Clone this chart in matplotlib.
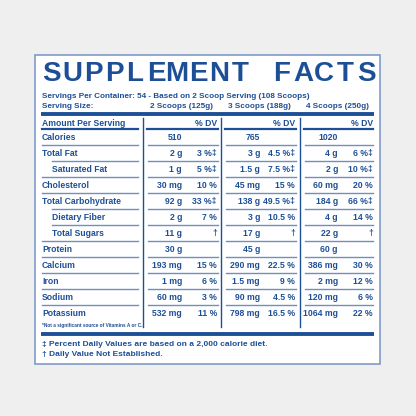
import matplotlib
matplotlib.use("Agg")
import matplotlib.pyplot as plt

title = "SUPPLEMENT FACTS"
servings_line = "Servings Per Container: 54 - Based on 2 Scoop Serving (108 Scoops)"
serving_sizes = ["2 Scoops (125g)", "3 Scoops (188g)", "4 Scoops (250g)"]
nutrients = ["Calories", "Total Fat", "Saturated Fat", "Cholesterol", "Total Carbohydrate",
             "Dietary Fiber", "Total Sugars", "Protein", "Calcium", "Iron", "Sodium", "Potassium"]
indented = [False, False, True, False, False, True, True, False, False, False, False, False]
amounts = [
    ["510", "2 g", "1 g", "30 mg", "92 g", "2 g", "11 g", "30 g", "193 mg", "1 mg", "60 mg", "532 mg"],
    ["765", "3 g", "1.5 g", "45 mg", "138 g", "3 g", "17 g", "45 g", "290 mg", "1.5 mg", "90 mg", "798 mg"],
    ["1020", "4 g", "2 g", "60 mg", "184 g", "4 g", "22 g", "60 g", "386 mg", "2 mg", "120 mg", "1064 mg"],
]
dvs = [
    ["", "3 %‡", "5 %‡", "10 %", "33 %‡", "7 %", "†", "", "15 %", "6 %", "3 %", "11 %"],
    ["", "4.5 %‡", "7.5 %‡", "15 %", "49.5 %‡", "10.5 %", "†", "", "22.5 %", "9 %", "4.5 %", "16.5 %"],
    ["", "6 %‡", "10 %‡", "20 %", "66 %‡", "14 %", "†", "", "30 %", "12 %", "6 %", "22 %"],
]
footnotes = ["‡ Percent Daily Values are based on a 2,000 calorie diet.", "† Daily Value Not Established."]
small_note = "*Not a significant source of Vitamins A or C."

BLUE = "#1d4f96"
fam = ["Liberation Sans", "DejaVu Sans"]

fig = plt.figure(figsize=(4.16, 4.16), dpi=100, facecolor="#efefef")
ax = fig.add_axes([0, 0, 1, 1])
ax.set_xlim(0, 416); ax.set_ylim(416, 0); ax.axis("off")
ax.add_patch(plt.Rectangle((35, 55), 345, 309, facecolor="white", edgecolor="#7f9cc8", lw=1.2))

def t(x, y, s, size=6.2, ha="left", **kw):
    ax.text(x, y, s, color=BLUE, fontsize=size, fontweight="bold", family=fam, ha=ha, va="center", **kw)

chars = list(title)
x0, x1 = 51, 366
for i, c in enumerate(chars):
    ax.text(x0 + (x1 - x0) * i / (len(chars) - 1), 74, c, color=BLUE, fontsize=20,
            fontweight="bold", family=fam, ha="center", va="center")

t(42, 97, servings_line, 5.9)
t(42, 107, "Serving Size:", 5.9)
for x, s in zip([150, 228, 306], serving_sizes):
    t(x, 107, s, 5.9)
ax.plot([41, 374], [114, 114], color=BLUE, lw=2.8, solid_capstyle="butt")
ax.plot([41, 374], [334, 334], color=BLUE, lw=2.8, solid_capstyle="butt")
for xv in [143, 221, 300]:
    ax.plot([xv, xv], [118, 327], color=BLUE, lw=1.0)

cols = [(147, 218, 182, 217), (225, 296, 260, 295), (304, 373, 338, 373)]
t(42, 123, "Amount Per Serving")
for (a, b, ra, rd) in cols:
    t(rd, 123, "% DV", ha="right")
    ax.plot([a, b], [129, 129], color=BLUE, lw=1.6)
ax.plot([42, 138], [129, 129], color=BLUE, lw=1.6)

y0, dy = 137, 16
for i, name in enumerate(nutrients):
    y = y0 + i * dy
    lx = 52 if indented[i] else 42
    t(lx, y, name)
    for j, (a, b, ra, rd) in enumerate(cols):
        t(ra, y, amounts[j][i], ha="right")
        if dvs[j][i]:
            t(rd, y, dvs[j][i], ha="right")
        if i < len(nutrients) - 1:
            ax.plot([a + 1, b], [y + 8, y + 8], color="#6f8fc0", lw=1.0)
    if i < len(nutrients) - 1:
        ax.plot([(52 if indented[i + 1] else 42), 138], [y + 8, y + 8], color="#6f8fc0", lw=1.0)

t(42, 325, small_note, 3.4)
t(42, 345, footnotes[0], 6.0)
t(42, 355, footnotes[1], 6.0)

fig.savefig("out.png", dpi=100, facecolor=fig.get_facecolor())
